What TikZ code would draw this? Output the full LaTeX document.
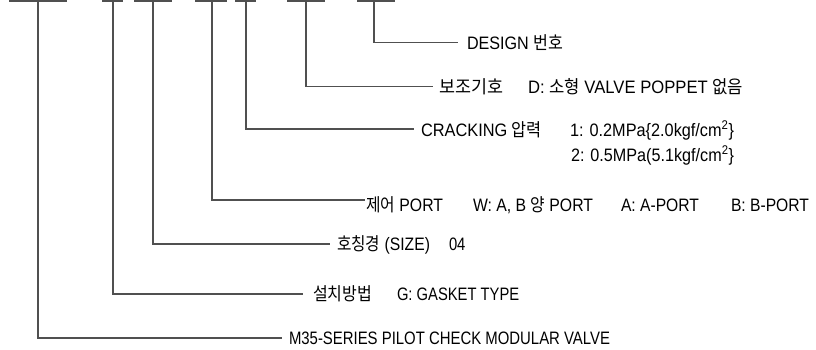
\documentclass[tikz,border=0pt]{standalone}
\usepackage{fontspec}
\usepackage{graphicx}
\setmainfont{Liberation Sans}[FakeStretch=0.82]
\newfontfamily\kr{Noto Sans CJK KR}[FakeStretch=0.82]
\definecolor{lncol}{RGB}{80,80,80}
\newcommand\fitw[2]{\resizebox{#1}{\height}{#2}}
\begin{document}
\begin{tikzpicture}[x=1pt,y=-1pt,
  ln/.style={draw=lncol, line width=1.1pt},
  lbl/.style={anchor=base west, inner sep=0pt, outer sep=0pt, font=\fontsize{18}{20}\selectfont}]
\useasboundingbox (0,0) rectangle (816,349);
% item 1
\coordinate (b1l) at (9,1); \coordinate (b1r) at (67,1);
\coordinate (s1) at (38,1); \coordinate (e1) at (282,338);
\draw[ln] (b1l) -- (b1r);
\draw[ln] (s1) |- (e1);
\node[lbl] (m35) at (289,344.5) {\fitw{321pt}{M35-SERIES PILOT CHECK MODULAR VALVE}};
% item 2
\coordinate (b2l) at (102,1); \coordinate (b2r) at (123,1);
\coordinate (s2) at (113,1); \coordinate (e2) at (303,294);
\draw[ln] (b2l) -- (b2r);
\draw[ln] (s2) |- (e2);
\node[lbl] (inst) at (313,300.5) {\fitw{59pt}{\kr 설치방법}};
\node[lbl] (instv) at (397,300.5) {G: GASKET TYPE};
% item 3
\coordinate (b3l) at (134,1); \coordinate (b3r) at (172,1);
\coordinate (s3) at (153,1); \coordinate (e3) at (330,244);
\draw[ln] (b3l) -- (b3r);
\draw[ln] (s3) |- (e3);
\node[lbl] (size) at (337,250.5) {\fitw{93pt}{{\kr 호칭경} (SIZE)}};
\node[lbl] (sizev) at (449,250.5) {04};
% item 4
\coordinate (b4l) at (195,1); \coordinate (b4r) at (227,1);
\coordinate (s4) at (212,1); \coordinate (e4) at (365,200);
\draw[ln] (b4l) -- (b4r);
\draw[ln] (s4) |- (e4);
\node[lbl] (port) at (366,211) {\fitw{77pt}{{\kr 제어} PORT}};
\node[lbl] (portw) at (473,211) {\fitw{120pt}{W: A, B {\kr 양} PORT}};
\node[lbl] (porta) at (621,211) {\fitw{78pt}{A: A-PORT}};
\node[lbl] (portb) at (731,211) {\fitw{78pt}{B: B-PORT}};
% item 5
\coordinate (b5l) at (235,1); \coordinate (b5r) at (256,1);
\coordinate (s5) at (246,1); \coordinate (e5) at (414,129);
\draw[ln] (b5l) -- (b5r);
\draw[ln] (s5) |- (e5);
\node[lbl] (crack) at (421,136) {\fitw{121pt}{CRACKING {\kr 압력}}};
\node[lbl] (crack1) at (570,136) {\fitw{164pt}{1: 0.2MPa\{2.0kgf/cm\textsuperscript{2}\}}};
\node[lbl] (crack2) at (571,161) {\fitw{163pt}{2: 0.5MPa(5.1kgf/cm\textsuperscript{2}\}}};
% item 6
\coordinate (b6l) at (287,1); \coordinate (b6r) at (325,1);
\coordinate (s6) at (306,1); \coordinate (e6) at (433,86.5);
\draw[ln] (b6l) -- (b6r);
\draw[ln] (s6) |- (e6);
\node[lbl] (aux) at (439,93) {\fitw{64pt}{\kr 보조기호}};
\node[lbl] (auxv) at (528,93) {\fitw{215pt}{D: {\kr 소형} VALVE POPPET {\kr 없음}}};
% item 7
\coordinate (b7l) at (357,1); \coordinate (b7r) at (395,1);
\coordinate (s7) at (374,1); \coordinate (e7) at (458,42.5);
\draw[ln] (b7l) -- (b7r);
\draw[ln] (s7) |- (e7);
\node[lbl] (design) at (467,49) {\fitw{96pt}{DESIGN {\kr 번호}}};
\end{tikzpicture}
\end{document}
